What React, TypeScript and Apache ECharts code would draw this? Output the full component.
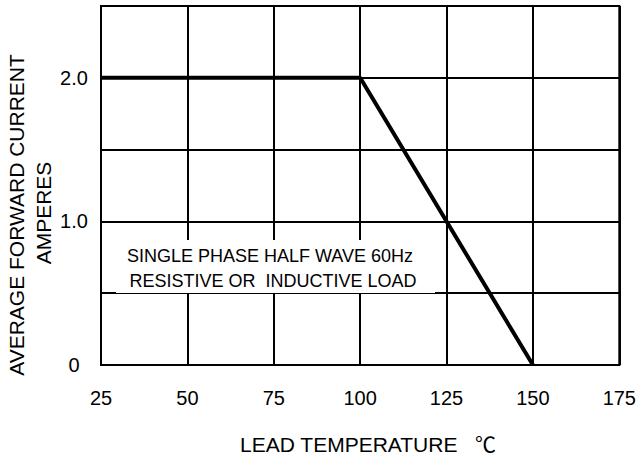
import React, { useEffect, useRef } from "react";
import * as echarts from "echarts";

const temperatures = [25, 100, 150];
const currents = [2.0, 2.0, 0];
const xTicks = [25, 50, 75, 100, 125, 150, 175];
const yLabelMap: Record<string, string> = { "0": "0", "1": "1.0", "2": "2.0" };
const noteLines = ["SINGLE PHASE HALF WAVE 60Hz", "RESISTIVE OR  INDUCTIVE LOAD"];
const yTitleLines = ["AVERAGE FORWARD CURRENT", "AMPERES"];
const xTitle = "LEAD TEMPERATURE   ℃";

const FONT = "'Liberation Sans', Arial, 'Noto Sans CJK SC', sans-serif";

export default function App() {
  const ref = useRef<HTMLDivElement>(null);
  useEffect(() => {
    if (!ref.current) return;
    const chart = echarts.init(ref.current, undefined, { renderer: "svg" });
    const data = temperatures.map((t, i) => [t, currents[i]]);
    chart.setOption({
      animation: false,
      backgroundColor: "#fff",
      grid: {
        left: 101,
        right: 13,
        top: 6,
        bottom: 92,
        show: true,
        borderColor: "#000",
        borderWidth: 2,
        backgroundColor: "transparent",
      },
      xAxis: {
        type: "value",
        min: xTicks[0],
        max: xTicks[xTicks.length - 1],
        interval: 25,
        axisLine: { show: false },
        axisTick: { show: false },
        splitLine: { show: true, lineStyle: { color: "#000", width: 2 } },
        axisLabel: {
          color: "#000",
          fontSize: 20,
          fontFamily: FONT,
          margin: 23,
          showMinLabel: true,
          showMaxLabel: true,
        },
      },
      yAxis: {
        type: "value",
        min: 0,
        max: 2.5,
        interval: 0.5,
        axisLine: { show: false },
        axisTick: { show: false },
        splitLine: { show: true, lineStyle: { color: "#000", width: 2 } },
        axisLabel: {
          color: "#000",
          fontSize: 20,
          fontFamily: FONT,
          margin: 27,
          align: "center",
          formatter: (v: number) => yLabelMap[String(v)] ?? "",
        },
      },
      series: [
        {
          type: "line",
          data,
          symbol: "none",
          lineStyle: { color: "#000", width: 4 },
          z: 5,
        },
      ],
      graphic: [
        {
          type: "rect",
          shape: { x: 116, y: 240, width: 319, height: 53 },
          style: { fill: "#fff" },
          z: 10,
        },
        {
          type: "text",
          x: 270,
          y: 256,
          style: {
            text: noteLines[0],
            fontSize: 18,
            fontFamily: FONT,
            fill: "#000",
            textAlign: "center",
            textVerticalAlign: "middle",
          },
          z: 11,
        },
        {
          type: "text",
          x: 273,
          y: 281,
          style: {
            text: noteLines[1],
            fontSize: 18,
            fontFamily: FONT,
            fill: "#000",
            textAlign: "center",
            textVerticalAlign: "middle",
          },
          z: 11,
        },
        {
          type: "text",
          x: 16,
          y: 215,
          rotation: Math.PI / 2,
          style: {
            text: yTitleLines[0],
            fontSize: 21,
            fontFamily: FONT,
            fill: "#000",
            textAlign: "center",
            textVerticalAlign: "middle",
          },
          z: 11,
        },
        {
          type: "text",
          x: 43,
          y: 213,
          rotation: Math.PI / 2,
          style: {
            text: yTitleLines[1],
            fontSize: 21,
            fontFamily: FONT,
            fill: "#000",
            textAlign: "center",
            textVerticalAlign: "middle",
          },
          z: 11,
        },
        {
          type: "text",
          x: 240,
          y: 444,
          style: {
            text: xTitle,
            fontSize: 21,
            fontFamily: FONT,
            fill: "#000",
            textAlign: "left",
            textVerticalAlign: "middle",
          },
          z: 11,
        },
      ],
    });
    return () => chart.dispose();
  }, []);
  return (
    <div
      ref={ref}
      style={{ position: "absolute", left: 0, top: 0, width: 639, height: 457 }}
    />
  );
}
